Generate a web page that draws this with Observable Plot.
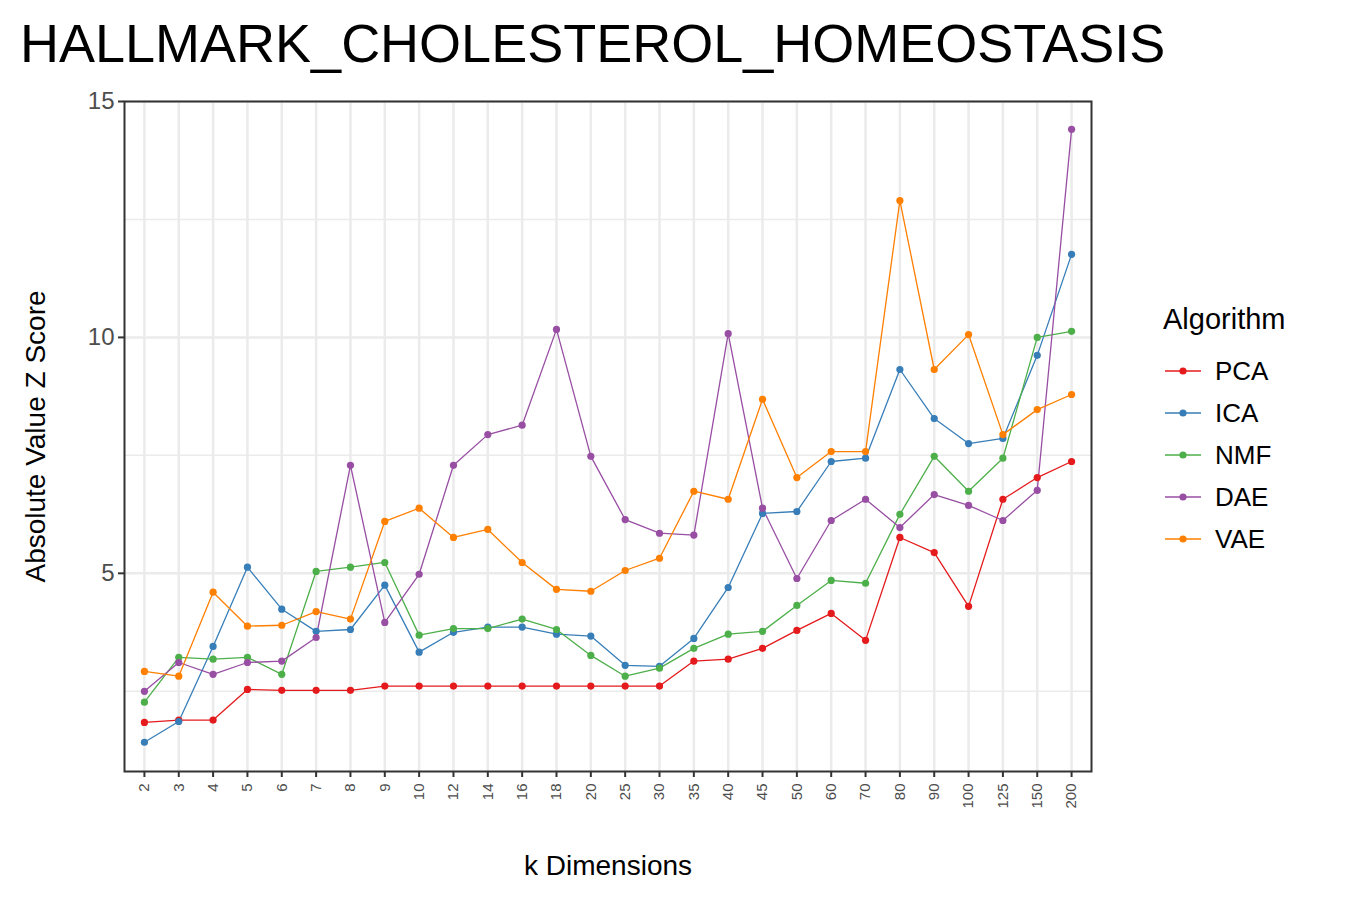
<!DOCTYPE html>
<html>
<head>
<meta charset="utf-8">
<script src="https://cdn.jsdelivr.net/npm/d3@7"></script>
<script src="https://cdn.jsdelivr.net/npm/@observablehq/plot@0.6"></script>
<style>
  body { margin: 0; font-family: Arial, "Liberation Sans", sans-serif; background: #fff; }
  #wrap { position: relative; width: 1350px; height: 900px; }
  #title { position: absolute; left: 20px; top: 12px; font-size: 54px; color: #000; }
  #legend { position: absolute; left: 1163px; top: 303px; font-size: 29px; }
  #legend .item { display: flex; align-items: center; height: 42px; font-size: 26px; }
</style>
</head>
<body>
<div id="wrap">
  <div id="chart"></div>
  <div id="title">HALLMARK_CHOLESTEROL_HOMEOSTASIS</div>
  <div id="legend"><div style="margin-bottom:14px">Algorithm</div></div>
</div>
<script>
const dims = ["2","3","4","5","6","7","8","9","10","12","14","16","18","20","25","30","35","40","45","50","60","70","80","90","100","125","150","200"];
const algorithms = ["PCA", "ICA", "NMF", "DAE", "VAE"];
const colors = ["#E41A1C", "#377EB8", "#4DAF4A", "#984EA3", "#FF7F00"];

const pca = [1.84,1.89,1.89,2.54,2.52,2.52,2.52,2.61,2.61,2.61,2.61,2.61,2.61,2.61,2.61,2.61,3.14,3.18,3.41,3.79,4.15,3.58,5.76,5.44,4.30,6.57,7.03,7.37];
const ica = [1.42,1.86,3.45,5.13,4.24,3.77,3.81,4.75,3.33,3.75,3.86,3.86,3.71,3.67,3.05,3.03,3.62,4.70,6.27,6.31,7.37,7.44,9.32,8.28,7.75,7.86,9.62,11.76];
const nmf = [2.27,3.22,3.18,3.22,2.86,5.04,5.13,5.23,3.69,3.83,3.83,4.03,3.81,3.26,2.82,2.99,3.41,3.71,3.77,4.32,4.85,4.79,6.25,7.48,6.74,7.44,10.0,10.13];
const dae = [2.50,3.11,2.86,3.11,3.14,3.64,7.29,3.96,4.98,7.29,7.94,8.14,10.17,7.48,6.14,5.85,5.81,10.08,6.38,4.89,6.12,6.57,5.97,6.67,6.44,6.12,6.76,14.41];
const vae = [2.92,2.82,4.60,3.88,3.90,4.19,4.03,6.10,6.38,5.76,5.93,5.23,4.66,4.62,5.06,5.32,6.74,6.57,8.69,7.03,7.58,7.58,12.90,9.32,10.06,7.94,8.47,8.79];

const series = [pca, ica, nmf, dae, vae];
const data = [];
series.forEach((vals, i) => vals.forEach((v, j) => data.push({ algorithm: algorithms[i], k: dims[j], z: v })));

const chart = Plot.plot({
  width: 1350,
  height: 900,
  marginLeft: 124,
  marginRight: 259,
  marginTop: 101,
  marginBottom: 129,
  style: { fontFamily: "Arial, 'Liberation Sans', sans-serif", background: "#fff" },
  x: { type: "point", domain: dims, padding: 0.58, round: false, label: null },
  y: { domain: [0.8, 15], label: null },
  color: { domain: algorithms, range: colors },
  marks: [
    Plot.ruleX(dims, { stroke: "#ebebeb", strokeWidth: 2.5 }),
    Plot.ruleY([2.5, 7.5, 12.5], { stroke: "#ebebeb", strokeWidth: 1.5 }),
    Plot.ruleY([5, 10, 15], { stroke: "#ebebeb", strokeWidth: 2.5 }),
    Plot.line(data, { x: "k", y: "z", stroke: "algorithm", z: "algorithm", strokeWidth: 1.3 }),
    Plot.dot(data, { x: "k", y: "z", fill: "algorithm", r: 3.6 }),
    Plot.frame({ stroke: "#333", strokeWidth: 2 }),
    Plot.axisY({ ticks: [5, 10, 15], tickSize: 6, fontSize: 24, tickPadding: 4, color: "#4d4d4d", stroke: "#333", strokeWidth: 2, label: null }),
    Plot.axisX({ tickSize: 6, fontSize: 15, tickRotate: -90, tickPadding: 6, color: "#4d4d4d", stroke: "#333", strokeWidth: 2, label: null, textAnchor: "end" }),
    Plot.text(["k Dimensions"], { frameAnchor: "bottom", dy: 103, fontSize: 28, fill: "#000" }),
    Plot.text(["Absolute Value Z Score"], { frameAnchor: "left", dx: -88, rotate: -90, textAnchor: "middle", fontSize: 28, fill: "#000" })
  ]
});
d3.select("#chart").append(() => chart);

const legend = d3.select("#legend");
algorithms.forEach((a, i) => {
  const item = legend.append("div").attr("class", "item");
  const svg = item.append("svg").attr("width", 40).attr("height", 20).style("margin-right", "12px");
  svg.append("line").attr("x1", 2).attr("x2", 38).attr("y1", 10).attr("y2", 10).attr("stroke", colors[i]).attr("stroke-width", 1.5);
  svg.append("circle").attr("cx", 20).attr("cy", 10).attr("r", 3.6).attr("fill", colors[i]);
  item.append("span").text(a);
});
</script>
</body>
</html>
